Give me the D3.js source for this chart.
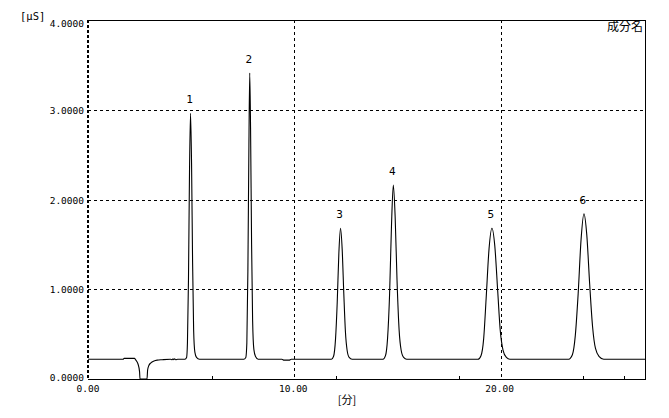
<!DOCTYPE html>
<html>
<head>
<meta charset="utf-8">
<script src="https://cdnjs.cloudflare.com/ajax/libs/d3/7.8.5/d3.min.js"></script>
<style>
  body { margin: 0; background: #fff; }
  svg { display: block; }
  .num { font-family: "DejaVu Sans Mono", "Liberation Mono", monospace; font-size: 9.5px; fill: #000; }
  .jp { font-family: "Noto Sans CJK JP", sans-serif; font-size: 12px; fill: #000; }
</style>
</head>
<body>
<svg id="chart" width="669" height="418"></svg>
<script>
// trace: time [min] and signal [uS]
var traceTime = [0, 1.70, 1.75, 2.25, 2.32, 2.42, 2.50, 2.52, 2.86, 2.89, 2.95, 3.05, 3.20, 3.35, 3.60,
  4.00, 4.08, 4.12, 4.16, 4.20, 4.25, 4.35, 4.70,
  4.78, 4.82, 4.87, 4.92, 4.97, 5.02, 5.07, 5.12, 5.18, 5.26, 5.40,
  7.55, 7.65, 7.70, 7.75, 7.80, 7.84, 7.88, 7.93, 7.98, 8.04, 8.12, 8.25,
  9.40, 9.50, 9.75, 9.85,
  11.80, 11.90, 12.00, 12.08, 12.16, 12.24, 12.32, 12.40, 12.48, 12.56, 12.66, 12.80,
  14.30, 14.42, 14.52, 14.62, 14.71, 14.80, 14.89, 14.98, 15.08, 15.18, 15.30, 15.45,
  18.90, 19.05, 19.18, 19.30, 19.44, 19.58, 19.72, 19.86, 19.98, 20.12, 20.28, 20.45,
  23.30, 23.48, 23.62, 23.76, 23.90, 24.04, 24.18, 24.32, 24.46, 24.60, 24.78, 25.00, 27.00];
var traceSignal = [0.22, 0.22, 0.23, 0.23, 0.21, 0.17, 0.08, 0.00, 0.00, 0.10, 0.15, 0.18, 0.20, 0.21, 0.215,
  0.22, 0.215, 0.225, 0.215, 0.225, 0.215, 0.22, 0.22,
  0.24, 0.40, 1.10, 2.30, 2.96, 2.40, 1.30, 0.55, 0.30, 0.24, 0.22,
  0.22, 0.24, 0.40, 1.20, 2.60, 3.41, 2.80, 1.50, 0.65, 0.33, 0.25, 0.22,
  0.22, 0.21, 0.21, 0.22,
  0.22, 0.25, 0.45, 0.85, 1.40, 1.68, 1.45, 0.95, 0.52, 0.32, 0.24, 0.22,
  0.22, 0.26, 0.45, 0.95, 1.70, 2.16, 1.80, 1.10, 0.55, 0.32, 0.24, 0.22,
  0.22, 0.26, 0.45, 0.90, 1.45, 1.68, 1.48, 0.98, 0.55, 0.32, 0.24, 0.22,
  0.22, 0.27, 0.48, 0.95, 1.55, 1.84, 1.60, 1.05, 0.58, 0.34, 0.25, 0.22, 0.22];

// peak numbers and where they sit
var peakLabels = ["1", "2", "3", "4", "5", "6"];
var peakTime = [4.97, 7.84, 12.24, 14.80, 19.58, 24.04];
var peakHeight = [2.96, 3.41, 1.68, 2.16, 1.68, 1.84];

var yTicks = [0, 1, 2, 3, 4];
var xTicks = [0, 10, 20];
var xMinorTicks = [6, 12, 18, 24, 26];

var svg = d3.select("#chart");
var margin = {top: 20, right: 24, bottom: 39, left: 88};
var width = 669 - margin.left - margin.right;
var height = 418 - margin.top - margin.bottom;

var x = d3.scaleLinear().domain([0, 27]).range([0, width]);
var y = d3.scaleLinear().domain([0, 4]).range([height, 0]);

var g = svg.append("g").attr("transform", "translate(" + margin.left + "," + margin.top + ")");

// dashed grid lines
g.selectAll(".hgrid").data([1, 2, 3]).enter().append("line")
  .attr("x1", 0).attr("x2", width)
  .attr("y1", function(d) { return Math.round(y(d)) + 0.5; })
  .attr("y2", function(d) { return Math.round(y(d)) + 0.5; })
  .attr("stroke", "#000").attr("stroke-dasharray", "3,3").attr("shape-rendering", "crispEdges");
g.selectAll(".vgrid").data([10, 20]).enter().append("line")
  .attr("x1", function(d) { return Math.round(x(d)) + 0.5; })
  .attr("x2", function(d) { return Math.round(x(d)) + 0.5; })
  .attr("y1", 0).attr("y2", height)
  .attr("stroke", "#000").attr("stroke-dasharray", "3,3").attr("shape-rendering", "crispEdges");

// frame: solid top, right, bottom; dashed left
g.append("path")
  .attr("d", "M0,0.5H" + (width + 0.5) + "V" + (height + 0.5) + "H0")
  .attr("fill", "none").attr("stroke", "#000").attr("shape-rendering", "crispEdges");
g.append("line").attr("x1", 0).attr("x2", 0).attr("y1", 0).attr("y2", height)
  .attr("stroke", "#000").attr("stroke-width", 2).attr("stroke-dasharray", "3,2")
  .attr("shape-rendering", "crispEdges");

// small x ticks
g.selectAll(".xminor").data(xMinorTicks).enter().append("line")
  .attr("x1", function(d) { return Math.round(x(d)) + 0.5; })
  .attr("x2", function(d) { return Math.round(x(d)) + 0.5; })
  .attr("y1", height - 3).attr("y2", height)
  .attr("stroke", "#000").attr("shape-rendering", "crispEdges");

// tick labels (0.0000 sits a touch higher so it clears 0.00)
g.selectAll(".ylab").data(yTicks).enter().append("text")
  .attr("class", "num").attr("text-anchor", "end")
  .attr("x", -4).attr("y", function(d) { return y(d) + (d === 4 ? 7 : (d === 0 ? 2 : 4)); })
  .text(function(d) { return d3.format(".4f")(d); });
g.selectAll(".xlab").data(xTicks).enter().append("text")
  .attr("class", "num").attr("text-anchor", "middle")
  .attr("x", function(d) { return x(d) - 1 + (d === 0 ? 1 : 0); }).attr("y", height + 13)
  .text(function(d) { return d3.format(".2f")(d); });

// axis titles
svg.append("text").attr("class", "num").attr("x", 20).attr("y", 20)
  .style("font-size", "10.5px").text("[μS]");
svg.append("text").attr("class", "jp").attr("x", 347).attr("y", 404)
  .attr("text-anchor", "middle").style("font-size", "11px").text("[分]");
svg.append("text").attr("class", "jp").attr("x", 643).attr("y", 31)
  .attr("text-anchor", "end").text("成分名");

// chromatogram trace
var points = traceTime.map(function(t, i) { return [t, traceSignal[i]]; });
var line = d3.line()
  .x(function(d) { return x(d[0]); })
  .y(function(d) { return y(d[1]); })
  .curve(d3.curveMonotoneX);
g.append("path").datum(points)
  .attr("fill", "none").attr("stroke", "#000").attr("stroke-width", 1.1)
  .attr("d", line);

// peak numbers
g.selectAll(".peak").data(peakLabels).enter().append("text")
  .attr("class", "num").attr("text-anchor", "middle").style("font-size", "11px")
  .attr("x", function(d, i) { return x(peakTime[i]) - 1; })
  .attr("y", function(d, i) { return y(peakHeight[i]) - 10; })
  .text(function(d) { return d; });
</script>
</body>
</html>
